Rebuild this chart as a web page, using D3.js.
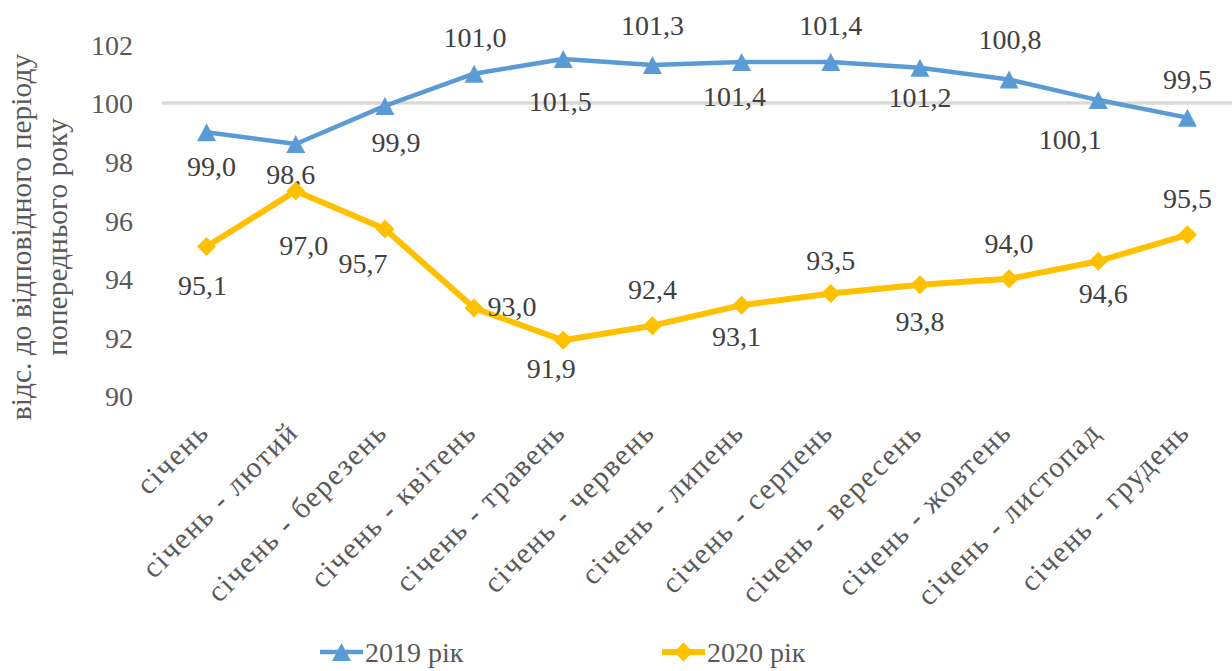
<!DOCTYPE html>
<html>
<head>
<meta charset="utf-8">
<script src="https://cdn.jsdelivr.net/npm/d3@7"></script>
<style>
  body { margin: 0; background: #fff; }
</style>
</head>
<body>
<script>
// chart data
var months = ['січень', 'січень - лютий', 'січень - березень', 'січень - квітень',
  'січень - травень', 'січень - червень', 'січень - липень', 'січень - серпень',
  'січень - вересень', 'січень - жовтень', 'січень - листопад', 'січень - грудень'];
var values2019 = [99.0, 98.6, 99.9, 101.0, 101.5, 101.3, 101.4, 101.4, 101.2, 100.8, 100.1, 99.5];
var values2020 = [95.1, 97.0, 95.7, 93.0, 91.9, 92.4, 93.1, 93.5, 93.8, 94.0, 94.6, 95.5];
var yTicks = [90, 92, 94, 96, 98, 100, 102];
var seriesNames = ['2019 рік', '2020 рік'];

// label nudges (dx, dy from the marker)
var nudge2019 = [[5,34],[-5,30],[11,36],[1,-37],[-3,42],[0,-40],[-7,34],[0,-37],[0,29],[1,-40],[-28,39],[0,-38]];
var nudge2020 = [[-4,39],[8,54],[-22,34],[38,-2],[-12,28],[0,-36],[-5,31],[0,-33],[0,37],[0,-36],[5,32],[0,-37]];

var W = 1232, H = 671;
var fontSize = 29.5, numSize = 28;
var serif = 'Liberation Serif';
var blue = '#5B9BD5', gold = '#FFC000';

var svg = d3.select('body').append('svg')
  .attr('width', W)
  .attr('height', H);

var x = d3.scalePoint().domain(months).range([162, 1232]).padding(0.5);
var y = d3.scaleLinear().domain([90, 102]).range([396, 44.4]);

// marker shapes
var triangle = {draw: function(ctx, size){
  var w = 9.5, h = 9;
  ctx.moveTo(0, -h); ctx.lineTo(w, h); ctx.lineTo(-w, h); ctx.closePath();
}};
var diamond = {draw: function(ctx, size){
  var r = 9.5;
  ctx.moveTo(0, -r); ctx.lineTo(r, 0); ctx.lineTo(0, r); ctx.lineTo(-r, 0); ctx.closePath();
}};

// y axis ticks (labels only)
var yAxis = d3.axisLeft(y).tickValues(yTicks).tickSize(0).tickPadding(0).tickFormat(d3.format('d'));
var ya = svg.append('g').attr('transform', 'translate(133,0)').call(yAxis)
  .attr('font-family', serif).attr('font-size', numSize);
ya.select('.domain').remove();
ya.selectAll('text')
  .attr('fill', '#595959')
  .attr('dy', '0.35em');

// horizontal axis line at 100
svg.append('line')
  .attr('x1', 162).attr('x2', 1232)
  .attr('y1', y(100)).attr('y2', y(100))
  .attr('stroke', '#D9D9D9')
  .attr('stroke-width', 3.5);

// category labels
var xAxis = d3.axisBottom(x).tickSize(0).tickPadding(0);
var xa = svg.append('g').call(xAxis)
  .attr('font-family', serif).attr('font-size', fontSize);
xa.select('.domain').remove();
xa.selectAll('.tick').attr('transform', function(d){ return 'translate(' + (x(d) + 4) + ',434)'; });
xa.selectAll('text')
  .attr('fill', '#595959')
  .attr('letter-spacing', 1.6)
  .attr('y', 0).attr('dy', 0)
  .attr('text-anchor', 'end')
  .attr('transform', 'rotate(-45)');

// y axis title
var title = svg.append('text')
  .attr('transform', 'translate(0,237) rotate(-90)')
  .attr('text-anchor', 'middle')
  .attr('font-family', serif)
  .attr('font-size', fontSize)
  .attr('fill', '#595959');
title.append('tspan').attr('x', 0).attr('y', 31).text('відс. до відповідного періоду');
title.append('tspan').attr('x', 0).attr('y', 67).text('попереднього року');

function drawSeries(values, color, width, shape, nudges){
  var line = d3.line()
    .x(function(d, i){ return x(months[i]); })
    .y(function(d){ return y(d); });
  svg.append('path').datum(values)
    .attr('d', line)
    .attr('fill', 'none')
    .attr('stroke', color)
    .attr('stroke-width', width)
    .attr('stroke-linejoin', 'round');
  svg.append('g').selectAll('path').data(values)
    .enter().append('path')
    .attr('d', d3.symbol().type(shape))
    .attr('transform', function(d, i){ return 'translate(' + x(months[i]) + ',' + y(d) + ')'; })
    .attr('fill', color);
  svg.append('g').selectAll('text').data(values)
    .enter().append('text')
    .attr('x', function(d, i){ return x(months[i]) + nudges[i][0]; })
    .attr('y', function(d, i){ return y(d) + nudges[i][1]; })
    .attr('dy', '0.35em')
    .attr('text-anchor', 'middle')
    .attr('font-family', serif)
    .attr('font-size', numSize)
    .attr('fill', '#404040')
    .text(function(d){ return d.toFixed(1).replace('.', ','); });
}

drawSeries(values2019, blue, 4.5, triangle, nudge2019);
drawSeries(values2020, gold, 6, diamond, nudge2020);

// legend
var legend = [
  {name: seriesNames[0], color: blue, width: 4.5, shape: triangle, x: 320},
  {name: seriesNames[1], color: gold, width: 6, shape: diamond, x: 662}
];
var lg = svg.append('g').selectAll('g').data(legend).enter().append('g')
  .attr('transform', function(d){ return 'translate(' + d.x + ',652)'; });
lg.append('line')
  .attr('x1', 0).attr('x2', 43)
  .attr('stroke', function(d){ return d.color; })
  .attr('stroke-width', function(d){ return d.width; });
lg.append('path')
  .attr('d', function(d){ return d3.symbol().type(d.shape)(); })
  .attr('transform', 'translate(21.5,0)')
  .attr('fill', function(d){ return d.color; });
lg.append('text')
  .attr('x', 45).attr('dy', '0.35em')
  .attr('font-family', serif)
  .attr('font-size', numSize)
  .attr('fill', '#595959')
  .text(function(d){ return d.name; });
</script>
</body>
</html>
